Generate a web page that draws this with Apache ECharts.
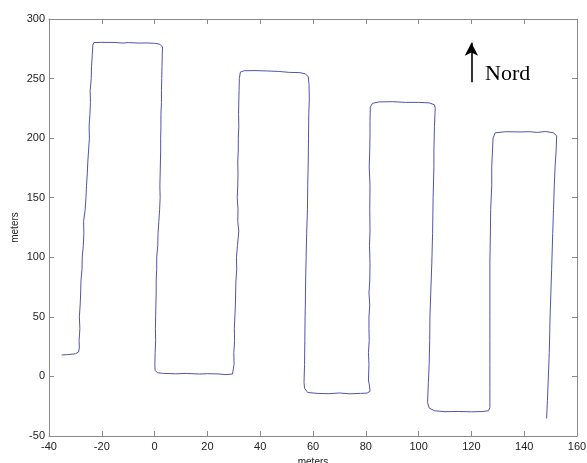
<!DOCTYPE html>
<html>
<head>
<meta charset="utf-8">
<script src="https://cdn.jsdelivr.net/npm/echarts@6/dist/echarts.min.js"></script>
<style>html,body{margin:0;padding:0;background:#fff}#c{width:587px;height:463px}</style>
</head>
<body>
<div id="c"></div>
<script>
// Track (x, y in meters)
const trackX = [-35.2,-33,-30,-28.8,-28.5,-28.6,-28.3,-28.5,-28.2,-28.0,-27.9,-27.5,-27.4,-27.0,-26.8,-26.9,-26.3,-26.0,-25.8,-25.5,-25.3,-25.0,-24.7,-24.8,-24.5,-24.3,-24.4,-24.0,-23.9,-23.6,-23.4,-23.0,-20,-15,-12,-10,-6,-3,0,2,3.0,2.9,2.8,2.7,2.6,2.6,2.4,2.4,2.3,2.3,2.2,2.1,2.0,2.1,1.9,1.6,1.3,1.2,0.8,0.8,0.6,0.6,0.5,0.4,0.3,0.4,0.2,0.1,0.2,1,3,8,12,17,20,24,27,29.5,30,30.1,30.0,30.3,30.2,30.4,30.6,30.7,30.8,31.1,31.0,31.4,31.9,31.5,31.6,31.3,31.5,31.6,31.5,31.7,31.7,31.9,31.8,31.9,32.0,32.1,32.5,34,38,42.5,47,51,55,57,58.2,58.5,58.6,58.4,58.3,58.2,58,57.9,57.6,57.4,57.2,57.1,57,56.9,56.8,56.6,56.8,58,62,66,70,74,78,80.5,81.6,81.4,81.0,81.2,81.0,81.3,81.2,81.2,81.5,81.2,81.5,81.6,81.4,81.6,81.5,81.6,81.3,81.5,81.6,81.6,81.7,82.5,85,90,95,100,104,106,106.3,106.0,105.8,105.8,105.5,105.3,105,104.6,104.3,104.2,104,103.7,103.4,104,106,110,115,120,124,126.5,127,127,127,127,127,127,127,127.2,127.3,127.7,127.7,128,128.2,129,133,138,142,145,148,151,152.3,152.1,151.7,151.4,151.1,150.8,150.4,149.8,149.5,149.1,148.8,148.5];
const trackY = [18,18.3,19,20.5,24,30,40,50,60,70,80,90,100,110,120,130,140,150,160,170,180,190,200,210,220,230,240,250,260,270,278,280.2,280.4,280.3,279.8,280.2,279.8,279.9,279.6,278.8,276.5,270,260,250,240,230,220,210,200,190,180,170,160,150,140,130,120,110,100,90,80,70,60,50,40,30,20,10,5,3.2,2.6,2.2,2.5,2.0,2.3,2.1,1.5,2,3.5,10,20,30,40,50,60,70,80,90,100,110,122,130,140,150,160,170,180,190,200,210,220,232,240,250,255.5,256.6,256.7,256.4,256,255.2,255,254,251.6,245,232,220,200,180,160,140,120,100,80,60,50,30,10,-5,-10,-13.5,-14.3,-14.5,-13.9,-14.6,-14.2,-14,-12.5,-8,-3,10,20,30,40,50,60,70,80,95,110,122,140,160,176,190,204,215,226,229.2,230.4,230.6,230,230,229.6,228,225,210,190,176,150,120,95,70,50,30,10,-5,-22,-26.5,-28.8,-29.6,-29.4,-29.7,-29.5,-28.8,-26,-10,10,30,50,70,95,122,140,160,176,190,200,204.5,205.4,205.2,205.4,204.8,205.6,204.5,202,190,176,160,140,120,90,50,20,-3,-20,-35.3];

const xTicks = {min: -40, max: 160, interval: 20};
const yTicks = {min: -50, max: 300, interval: 50};
const northArrow = [[120, 247], [120, 280]];
const northLabel = {text: 'Nord', at: [125, 253.5]};
const axisName = 'meters';

const track = trackX.map((x, i) => [x, trackY[i]]);

const axisColor = '#8a8a8a';
const labelStyle = {color: '#222', fontFamily: 'Liberation Sans, Arial, sans-serif', fontSize: 11};

function xAx(pos, main) {
  return {
    type: 'value', position: pos, min: xTicks.min, max: xTicks.max, interval: xTicks.interval,
    axisLine: {show: true, onZero: false, lineStyle: {color: axisColor, width: 1}},
    axisTick: {show: true, inside: true, length: 5, lineStyle: {color: axisColor}},
    axisLabel: Object.assign({show: main, margin: 5}, labelStyle),
    splitLine: {show: false},
    name: main ? axisName : '', nameLocation: 'middle', nameGap: 21, nameMoveOverlap: false,
    nameTextStyle: {color: '#222', fontFamily: 'Liberation Sans, Arial, sans-serif', fontSize: 10}
  };
}
function yAx(pos, main) {
  return {
    type: 'value', position: pos, min: yTicks.min, max: yTicks.max, interval: yTicks.interval,
    axisLine: {show: true, onZero: false, lineStyle: {color: axisColor, width: 1}},
    axisTick: {show: true, inside: true, length: 5, lineStyle: {color: axisColor}},
    axisLabel: Object.assign({show: main, margin: 4}, labelStyle),
    splitLine: {show: false},
    name: main ? axisName : '', nameLocation: 'middle', nameGap: 29, nameMoveOverlap: false,
    nameTextStyle: {color: '#222', fontFamily: 'Liberation Sans, Arial, sans-serif', fontSize: 10}
  };
}

const chart = echarts.init(document.getElementById('c'), null, {renderer: 'canvas'});
chart.setOption({
  animation: false,
  backgroundColor: '#fff',
  grid: {left: 49, right: 10, top: 19, bottom: 27, containLabel: false, outerBoundsMode: 'none'},
  xAxis: [xAx('bottom', true), xAx('top', false)],
  yAxis: [yAx('left', true), yAx('right', false)],
  series: [
    {
      type: 'line', xAxisIndex: 0, yAxisIndex: 0, data: track, showSymbol: false, symbol: 'none',
      lineStyle: {color: '#5353aa', width: 1}, smooth: false,
      markLine: {
        silent: true, symbol: ['none', 'arrow'], symbolSize: [10, 13],
        lineStyle: {color: '#000', width: 1.6, type: 'solid'},
        label: {show: false},
        data: [[{coord: northArrow[0]}, {coord: northArrow[1]}]]
      },
      markPoint: {
        silent: true, symbol: 'circle', symbolSize: 1, itemStyle: {color: 'rgba(0,0,0,0)'},
        label: {show: true, position: 'right', distance: 0, formatter: northLabel.text,
          color: '#000', fontFamily: 'Liberation Serif, Times New Roman, serif', fontSize: 22},
        data: [{coord: northLabel.at}]
      }
    }
  ]
});
</script>
</body>
</html>
